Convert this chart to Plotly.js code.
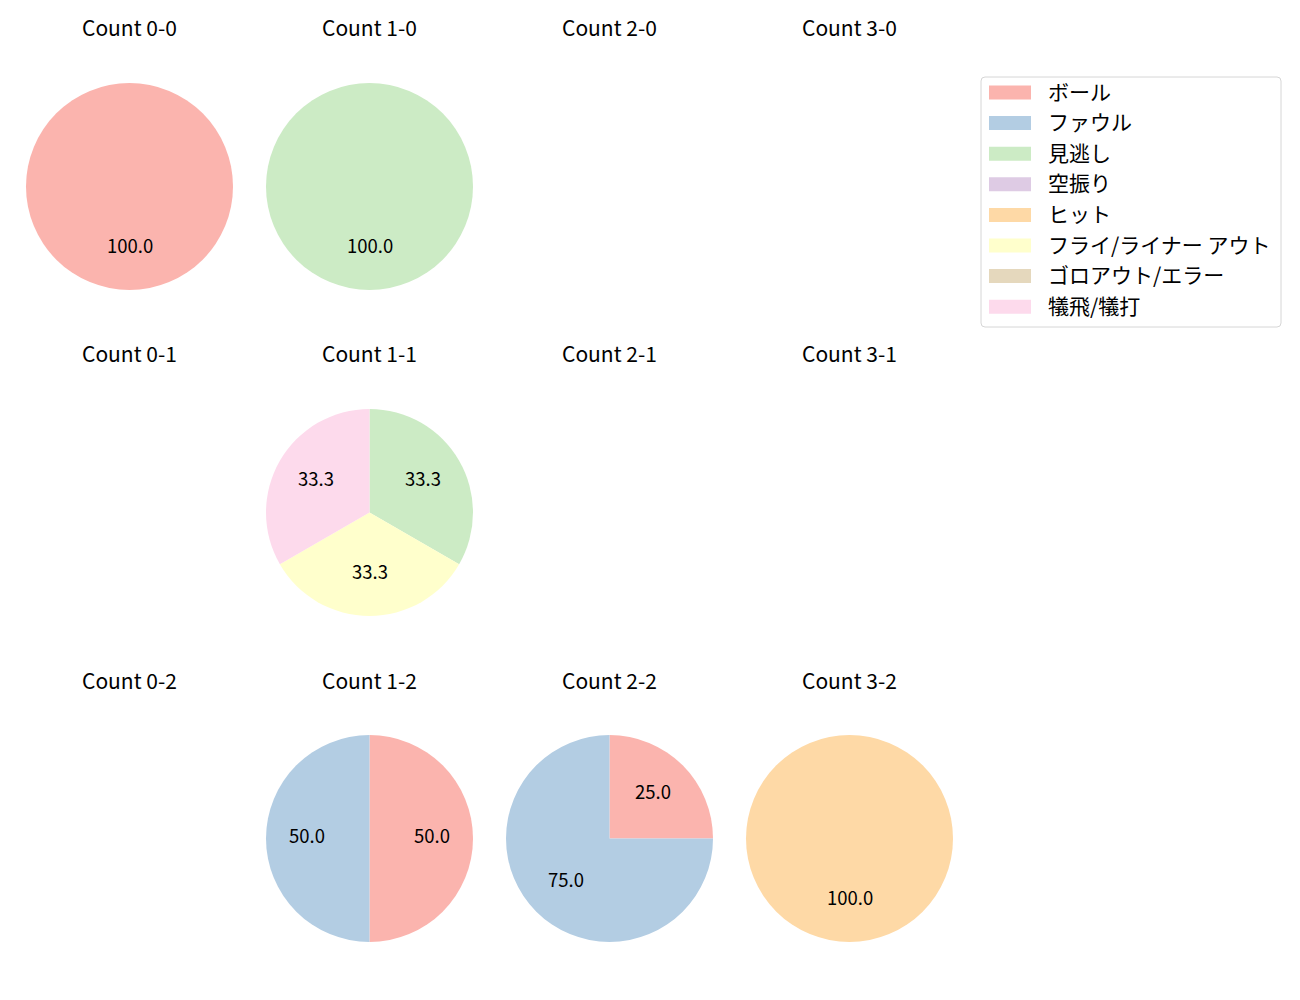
<!DOCTYPE html>
<html>
<head>
<meta charset="utf-8">
<script src="https://cdn.plot.ly/plotly-3.0.1.min.js"></script>
<style>html,body{margin:0;padding:0;background:#fff;}</style>
</head>
<body>
<div id="chart" style="width:1300px;height:1000px;"></div>
<script>
// ---- data ----
const resultLabels = ['ボール','ファウル','見逃し','空振り','ヒット','フライ/ライナー アウト','ゴロアウト/エラー','犠飛/犠打'];
const resultColors = ['#fbb4ae','#b3cde3','#ccebc5','#decbe4','#fed9a6','#ffffcc','#e5d8bd','#fddaec'];
const balls = [0,1,2,3];
const strikes = [0,1,2];
// counts per outcome (same order as resultLabels), keyed "balls-strikes"
const count_0_0 = [1,0,0,0,0,0,0,0];
const count_1_0 = [0,0,1,0,0,0,0,0];
const count_2_0 = [0,0,0,0,0,0,0,0];
const count_3_0 = [0,0,0,0,0,0,0,0];
const count_0_1 = [0,0,0,0,0,0,0,0];
const count_1_1 = [0,0,1,0,0,1,0,1];
const count_2_1 = [0,0,0,0,0,0,0,0];
const count_3_1 = [0,0,0,0,0,0,0,0];
const count_0_2 = [0,0,0,0,0,0,0,0];
const count_1_2 = [1,1,0,0,0,0,0,0];
const count_2_2 = [1,3,0,0,0,0,0,0];
const count_3_2 = [0,0,0,0,1,0,0,0];
const countData = {
  '0-0':count_0_0,'1-0':count_1_0,'2-0':count_2_0,'3-0':count_3_0,
  '0-1':count_0_1,'1-1':count_1_1,'2-1':count_2_1,'3-1':count_3_1,
  '0-2':count_0_2,'1-2':count_1_2,'2-2':count_2_2,'3-2':count_3_2
};

// ---- layout geometry (pixels) ----
const W = 1300, H = 1000;
const R = 103.5;
const colX0 = 129.5, colStep = 240;
const rowY0 = 186.5, rowStep = 326;
const titleOffset = 159;
const textLift = 3.5;
const FONT = '"Noto Sans CJK JP", "Noto Sans", sans-serif';
const px = x => x / W;
const py = y => 1 - y / H;

const traces = [];
const annotations = [];
const shapes = [];

strikes.forEach((s, row) => {
  balls.forEach((b, col) => {
    const key = b + '-' + s;
    const vals = countData[key];
    const cx = colX0 + colStep * col;
    const cy = rowY0 + rowStep * row;
    annotations.push({
      text: 'Count ' + key, xref:'paper', yref:'paper',
      x: px(cx), y: py(cy - titleOffset), xanchor:'center', yanchor:'middle',
      showarrow:false, font:{family:FONT, size:21, color:'#000'}
    });
    const total = vals.reduce((a,c)=>a+c,0);
    if (total === 0) return;
    const lab = [], v = [], col_ = [];
    vals.forEach((val,i)=>{ if(val>0){ lab.push(resultLabels[i]); v.push(val); col_.push(resultColors[i]); } });
    traces.push({
      type:'pie', labels:lab, values:v, sort:false, direction:'clockwise', rotation:0,
      marker:{colors:col_, line:{width:0}}, textinfo:'none', hoverinfo:'label+percent',
      showlegend:false,
      domain:{x:[px(cx-R), px(cx+R)], y:[py(cy+R), py(cy-R)]}
    });
    // percent labels, matplotlib style (pctdistance 0.6)
    let cum = 0;
    v.forEach(val=>{
      const frac = (cum + val/2) / total;
      const theta = (90 - 360*frac) * Math.PI/180;
      const tx = cx + 0.6*R*Math.cos(theta);
      const ty = cy - 0.6*R*Math.sin(theta) - textLift;
      annotations.push({
        text:(100*val/total).toFixed(1), xref:'paper', yref:'paper',
        x:px(tx), y:py(ty), xanchor:'center', yanchor:'middle', showarrow:false,
        font:{family:FONT, size:18.5, color:'#000'}
      });
      cum += val;
    });
  });
});

// ---- legend (drawn manually) ----
const lgX0 = 981, lgX1 = 1281, lgY0 = 77, lgY1 = 327, rr = 4;
const path = 'M'+px(lgX0+rr)+','+py(lgY0)+' L'+px(lgX1-rr)+','+py(lgY0)+
  ' Q'+px(lgX1)+','+py(lgY0)+' '+px(lgX1)+','+py(lgY0+rr)+
  ' L'+px(lgX1)+','+py(lgY1-rr)+' Q'+px(lgX1)+','+py(lgY1)+' '+px(lgX1-rr)+','+py(lgY1)+
  ' L'+px(lgX0+rr)+','+py(lgY1)+' Q'+px(lgX0)+','+py(lgY1)+' '+px(lgX0)+','+py(lgY1-rr)+
  ' L'+px(lgX0)+','+py(lgY0+rr)+' Q'+px(lgX0)+','+py(lgY0)+' '+px(lgX0+rr)+','+py(lgY0)+' Z';
shapes.push({type:'path', xref:'paper', yref:'paper', path:path,
  line:{color:'#d6d6d6', width:1}, fillcolor:'rgba(255,255,255,0.8)'});
resultLabels.forEach((lab,i)=>{
  const yc = 92.5 + 30.6*i;
  shapes.push({type:'rect', xref:'paper', yref:'paper',
    x0:px(989), x1:px(1031), y0:py(yc+7), y1:py(yc-7),
    fillcolor:resultColors[i], line:{width:0}});
  annotations.push({text:lab, xref:'paper', yref:'paper', x:px(1046), y:py(yc-2),
    xanchor:'left', yanchor:'middle', showarrow:false,
    font:{family:FONT, size:21, color:'#000'}});
});

const layout = {
  width:W, height:H, margin:{l:0,r:0,t:0,b:0},
  paper_bgcolor:'#fff', plot_bgcolor:'#fff',
  showlegend:false, annotations:annotations, shapes:shapes,
  font:{family:FONT}
};
Plotly.newPlot('chart', traces, layout, {displayModeBar:false, staticPlot:true});
</script>
</body>
</html>
